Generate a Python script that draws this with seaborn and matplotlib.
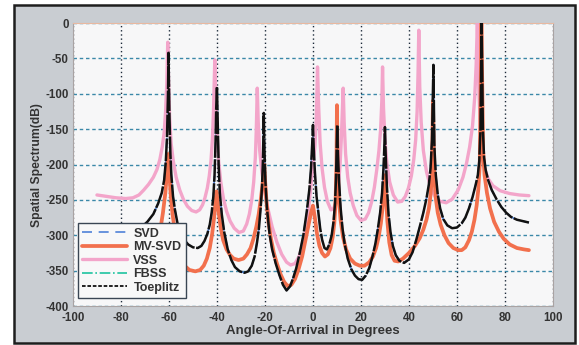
import matplotlib
matplotlib.use("Agg")
import matplotlib.pyplot as plt
import matplotlib.patches as mpatches
import seaborn as sns
import pandas as pd

# ---------------- data ----------------
toeplitz_deg = [-90, -85, -80, -76, -72, -69, -66.5, -64.5, -63, -62, -61.3, -60.8, -60.4, -60.2,
                -59.8, -59.4, -59, -58.3, -57.5, -56.5, -55, -53.5, -52, -50, -48, -46.5, -45.2, -44,
                -43, -42.2, -41.5, -41, -40.6, -40.3, -40,
                -39.7, -39.3, -38.8, -38, -37, -35.5, -34, -32.5, -30.5, -28.5, -27, -25.5, -24.3,
                -23.3, -22.5, -21.8, -21.2, -20.8, -20.5,
                -20.2, -19.8, -19.2, -18.5, -18, -17, -15.5, -14, -12.5, -11, -9.5, -8.2, -7, -5.5,
                -4, -2.6, -1.5, -0.8, -0.3, 0,
                0.3, 0.8, 1.5, 2.2, 3, 3.8, 4.8, 5.8, 6.8, 7.8, 8.6, 9.2, 9.6, 9.9, 10.1,
                10.4, 10.9, 11.5, 12.3, 13.2, 14.5, 16, 17.5, 19, 20.5, 22, 23.5, 24.8, 26, 27, 28,
                28.8, 29.4, 29.8, 30,
                30.3, 30.8, 31.5, 32.3, 33.3, 34.5, 36, 38, 40, 41.5, 43, 44.5, 46, 47.3, 48.3, 49,
                49.6, 50.2,
                50.6, 51.2, 52, 53, 54.3, 56, 58, 60, 62, 63.5, 65, 66.5, 67.7, 68.7, 69.3, 69.8, 70.3,
                70.8, 71.3, 72, 73, 74.5, 76.5, 78.5, 80.5, 82.5, 85, 87.5, 90]
toeplitz_db = [-308, -306, -303, -298, -290, -281, -270, -255, -240, -222, -195, -160, -100, -42,
               -130, -185, -215, -245, -264, -282, -298, -307, -313, -317, -318, -315, -308, -298,
               -285, -268, -245, -215, -170, -120, -90,
               -140, -200, -240, -270, -295, -320, -335, -345, -351, -353, -351, -343, -330,
               -310, -290, -262, -230, -190, -127,
               -180, -225, -260, -285, -300, -320, -340, -356, -370, -378, -372, -360, -347, -325,
               -300, -267, -235, -205, -170, -144,
               -175, -210, -245, -266, -290, -306, -318, -320, -313, -300, -280, -255, -220, -170, -144,
               -185, -225, -260, -290, -312, -333, -348, -357, -362, -363, -357, -346, -330, -312, -292, -268,
               -240, -205, -170, -147,
               -185, -230, -270, -295, -315, -328, -336, -339, -334, -324, -307, -288, -268, -248, -228, -205,
               -165, -59,
               -175, -215, -242, -262, -277, -286, -290, -289, -283, -275, -262, -246, -230, -215, -195, -150, 0,
               -150, -190, -208, -222, -236, -249, -260, -268, -274, -278, -280, -282]

mvsvd_deg = [-90, -85, -80, -75, -70, -67, -65, -63.5, -62.5, -61.5, -60.8, -60.3, -59.8, -59.2, -58.5,
             -57.5, -56.3, -55, -53.5, -51.5, -49, -47, -45.5, -44.2, -43, -42, -41.2, -40.6, -40.2,
             -39.8, -39.2, -38.4, -37.4, -36, -34.5, -33, -31, -29, -27.5, -26, -24.8, -23.6, -22.6,
             -21.7, -21, -20.6, -20.3, -19.9, -19.3, -18.5, -17.5, -16.3, -15, -13.5, -12, -10.5, -9,
             -7.5, -6, -4.5, -3, -1.8, -0.8, 0, 0.8, 1.7, 2.7, 3.8, 5, 6.2, 7.3, 8.2, 8.9, 9.4, 9.8,
             10, 10.3, 10.8, 11.5, 12.5, 13.8, 15.5, 17.5, 19.5, 21.5, 23.5, 25, 26.3, 27.4, 28.3, 29,
             29.6, 30, 30.4, 31, 31.8, 32.8, 34, 35.5, 37.5, 40, 42.5, 44.5, 46, 47.3, 48.3, 49, 49.6,
             50, 50.5, 51.2, 52, 53.2, 54.8, 56.5, 58.5, 60.5, 62, 63.5, 65, 66.2, 67.3, 68.2, 68.9,
             69.5, 70.2, 70.9, 71.5, 72.5, 73.8, 75.5, 77.5, 79.5, 82, 85, 88, 90]
mvsvd_db = [-352, -351, -350, -346, -338, -325, -310, -290, -268, -240, -210, -185, -215, -245, -270,
            -295, -318, -333, -343, -349, -351, -349, -343, -333, -318, -298, -275, -252, -238,
            -250, -270, -290, -307, -320, -328, -333, -335, -333, -327, -318, -305, -288, -270,
            -248, -228, -212, -200, -225, -255, -282, -305, -325, -340, -355, -366, -372, -370,
            -362, -348, -330, -305, -285, -268, -258, -275, -298, -315, -325, -330, -327, -318, -303, -283, -255, -200,
            -116, -200, -248, -278, -302, -320, -333, -340, -343, -343, -338, -330, -318, -302, -283, -262,
            -235, -215, -240, -280, -310, -328, -336, -337, -333, -325, -315, -304, -292, -278, -262, -243, -215,
            -110, -215, -248, -268, -285, -300, -311, -318, -321, -321, -317, -307, -295, -278, -258, -235,
            -200, 0, -180, -215, -240, -262, -281, -295, -305, -313, -318, -320, -321]

vss_deg = [-90, -86, -82, -78, -75, -72.5, -70.5, -68.5, -66.5, -65, -63.8, -62.8, -62, -61.4, -60.9,
           -60.5, -60.1, -59.7, -59.1, -58.2, -57, -55.5, -54, -52.3, -50.5, -48.7, -47.2, -46, -45,
           -44, -43.2, -42.5, -41.9, -41.4, -40.9, -40.4, -39.9, -39.3, -38.4, -37.3, -36, -34.5,
           -32.8, -30.8, -29, -27.6, -26.5, -25.5, -24.7, -24, -23.6, -23.2, -22.8, -22.2, -21.3,
           -20.2, -18.8, -17, -15, -13, -11, -9.3, -7.5, -5.8, -4.3, -3, -1.9, -0.9, 0, 0.8, 1.4,
           1.9, 2.4, 3, 3.8, 4.8, 6, 7.5, 8.7, 9.7, 10.6, 11.3, 11.8, 12.2, 12.6, 13, 13.6, 14.5,
           15.5, 16.8, 18.3, 20, 21.8, 23.2, 24.5, 25.6, 26.6, 27.5, 28.2, 28.7, 29, 29.4, 30, 30.8,
           32, 33.5, 35.3, 37, 38.5, 39.8, 41, 42, 42.8, 43.4, 43.8, 44.1, 44.5, 45.1, 46, 47.3, 49,
           51, 53, 55.5, 58, 60.5, 62.5, 64, 65.3, 66.5, 67.4, 68, 68.5, 69.2, 69.8, 70.5, 71.5, 73,
           75, 78, 82, 86, 90]
vss_db = [-243, -245, -247, -248, -247, -243, -236, -228, -218, -207, -193, -175, -155, -125, -85,
          -27, -90, -135, -170, -195, -218, -236, -249, -259, -265, -267, -264, -257, -247,
          -233, -216, -195, -165, -120, -52, -115, -160, -195, -225, -248, -266, -280,
          -290, -296, -294, -284, -270, -250, -225, -190, -150, -92, -140, -180, -210,
          -235, -262, -288, -310, -327, -338, -342, -340, -330, -314, -292, -265, -232, -200, -175, -135,
          -62, -120, -170, -205, -232, -252, -264, -262, -250, -230, -200, -165, -130, -92, -140, -185, -218,
          -240, -258, -272, -279, -277, -268, -252, -232, -207, -180, -150, -110, -62, -120, -165, -198,
          -225, -243, -253, -252, -245, -233, -216, -193, -165, -125, -70, -10, -90, -140, -180, -210, -232,
          -246, -252, -254, -249, -236, -218, -198, -175, -145, -105, -60, 0, -100, -150, -185, -205, -220,
          -230, -237, -241, -243, -244]

# SVD and FBSS coincide with (and are hidden under) Toeplitz and MV-SVD
svd_deg, svd_db = toeplitz_deg, toeplitz_db
fbss_deg, fbss_db = mvsvd_deg, mvsvd_db

x_ticks = [-100, -80, -60, -40, -20, 0, 20, 40, 60, 80, 100]
y_ticks = [-400, -350, -300, -250, -200, -150, -100, -50, 0]

# ---------------- styling ----------------
sns.set_style("white")
plt.rcParams['font.family'] = ['Liberation Sans', 'DejaVu Sans']
plt.rcParams['axes.unicode_minus'] = False

fig = plt.figure(figsize=(5.79, 3.45), dpi=100)
fig.patch.set_facecolor('white')
panel = mpatches.Rectangle((0.025, 0.007), 0.968, 0.978, transform=fig.transFigure,
                           facecolor='#c9cdd2', edgecolor='#1e1e1e', linewidth=1.8, zorder=-5)
fig.patches.append(panel)

ax = fig.add_axes([0.126, 0.113, 0.829, 0.820])
ax.set_zorder(1)
ax.set_facecolor('#f7f7f8')

def draw(deg, db, **kw):
    df = pd.DataFrame({'deg': deg, 'db': db})
    sns.lineplot(data=df, x='deg', y='db', ax=ax, sort=True, estimator=None, **kw)

draw(svd_deg, svd_db, color='#4f82d8', lw=1.2, linestyle=(0, (6, 4)), label='SVD', zorder=2)
draw(vss_deg, vss_db, color='#f3a5ca', lw=2.4, label='VSS', zorder=3)
draw(fbss_deg, fbss_db, color='#1ec4a0', lw=1.2, linestyle='-.', label='FBSS', zorder=2)
draw(mvsvd_deg, mvsvd_db, color='#f2704d', lw=2.7, label='MV-SVD', zorder=4)
draw(toeplitz_deg, toeplitz_db, color='#111111', lw=1.8, linestyle=(0, (9, 0.6)), label='Toeplitz', zorder=5)

ax.set_xlim(-100, 100)
ax.set_ylim(-400, 0)
ax.set_xticks(x_ticks)
ax.set_yticks(y_ticks)
ax.set_xticklabels([str(v) for v in x_ticks])
ax.set_yticklabels([str(v) for v in y_ticks])

ax.grid(axis='x', color='#1c2a3a', linestyle=(0, (1, 2)), linewidth=1.0, zorder=1)
ax.grid(axis='y', color='#3b88a8', linestyle=(0, (2.5, 2)), linewidth=1.0, zorder=1)
ax.set_axisbelow(True)

for s in ax.spines.values():
    s.set_color('#a9a3a3')
    s.set_linewidth(0.8)
ax.spines['top'].set_color('#e8b8a0')

ax.tick_params(axis='both', direction='in', length=3, width=0.8, color='#555555',
               labelsize=8.3, labelcolor='#333333')
ax.tick_params(axis='x', pad=4)
ax.tick_params(axis='y', pad=3)
for lab in ax.get_xticklabels() + ax.get_yticklabels():
    lab.set_fontweight('bold')

ax.set_xlabel('Angle-Of-Arrival in Degrees', fontsize=9.5, fontweight='bold', color='#333333', labelpad=1)
ax.set_ylabel('Spatial Spectrum(dB)', fontsize=8.7, fontweight='bold', color='#333333', labelpad=2)

handles, labels = ax.get_legend_handles_labels()
hmap = dict(zip(labels, handles))
order = ['SVD', 'MV-SVD', 'VSS', 'FBSS', 'Toeplitz']
leg = ax.legend([hmap[k] for k in order], order, loc='lower left', bbox_to_anchor=(0.01, 0.028),
                prop={'weight': 'bold', 'size': 9}, frameon=True, fancybox=False,
                edgecolor='#3a4654', facecolor='#f8f8f8', framealpha=1.0,
                handlelength=3.6, handletextpad=0.5, labelspacing=0.12, borderpad=0.35,
                borderaxespad=0)
leg.get_frame().set_linewidth(1.0)
leg.get_lines()[4].set_linestyle((0, (2, 1)))
leg.get_lines()[4].set_linewidth(1.3)
for t in leg.get_texts():
    t.set_color('#333333')
leg.set_zorder(10)

fig.savefig('out.png', dpi=100, facecolor=fig.get_facecolor())
